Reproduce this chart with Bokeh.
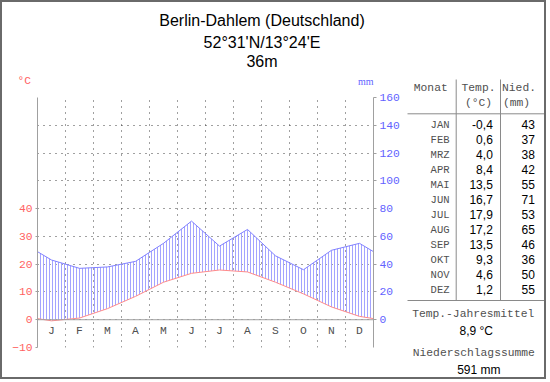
from bokeh.plotting import figure
from bokeh.layouts import row, column
from bokeh.models import Range1d, LinearAxis, FixedTicker, Span
from bokeh.embed import file_html
from bokeh.resources import INLINE
from bokeh.core.properties import value

# ---------------- data ----------------
station = "Berlin-Dahlem (Deutschland)"
coords = "52°31'N/13°24'E"
elevation = "36m"
month_letters = ["J", "F", "M", "A", "M", "J", "J", "A", "S", "O", "N", "D"]
month_names = ["JAN", "FEB", "MRZ", "APR", "MAI", "JUN", "JUL", "AUG", "SEP", "OKT", "NOV", "DEZ"]
temps = [-0.4, 0.6, 4.0, 8.4, 13.5, 16.7, 17.9, 17.2, 13.5, 9.3, 4.6, 1.2]
precip = [43, 37, 38, 42, 55, 71, 53, 65, 46, 36, 50, 55]
temp_ticks = [-10, 0, 10, 20, 30, 40]
precip_ticks = [0, 20, 40, 60, 80, 100, 120, 140, 160]
grid_ticks = [-10, 0, 10, 20, 30, 40, 50, 60, 70, 80]


def de(v):
    return f"{v:.1f}".replace(".", ",")


n = len(temps)
mid = [i + 0.5 for i in range(n)]
t_edge = (temps[0] + temps[-1]) / 2
p_edge = (precip[0] + precip[-1]) / 2
x_ext = [0] + mid + [n]
t_ext = [t_edge] + temps + [t_edge]
p_ext = [p_edge] + precip + [p_edge]
t_mm = [2 * t for t in t_ext]
mean_t = sum(temps) / n
sum_p = sum(precip)

# ---------------- style ----------------
RED = "#ff6262"
BLUE = "#6262ff"
MONO = "Liberation Mono"
SANS = "Liberation Sans"
GRAY_TXT = "#505050"
LINE_GRAY = "#8a8a8a"
MONO_PX = 11.3
SHIFT = 0.27  # em, compensates the renderer's baseline offset


def blank(w, h, xr, yr):
    f = figure(width=w, height=h, output_backend="svg", toolbar_location=None,
               x_range=Range1d(*xr), y_range=Range1d(*yr),
               x_axis_location=None, y_axis_location=None, min_border=0)
    f.grid.visible = False
    f.outline_line_color = None
    f.background_fill_color = "white"
    f.border_fill_color = "white"
    f.frame_align = False
    return f


def txt(f, x, y, t, color="black", font=SANS, px=12, align="left"):
    if isinstance(y, list):
        yy = [v - SHIFT * px for v in y]
    else:
        yy = y - SHIFT * px
    f.text(x=x, y=yy, text=t, text_color=color, text_font=value(font),
           text_font_size=f"{px}px", text_align=align, text_baseline="alphabetic")


# ---------------- title panel (page coords) ----------------
T = blank(403, 88, (2, 405), (90, 2))
txt(T, 261.5, 24.3, [station], px=16, align="center")
txt(T, 261.5, 46.7, [coords], px=16, align="center")
txt(T, 261.5, 65.7, [elevation], px=16, align="center")
txt(T, 17, 83.5, ["°C"], color=RED, font=MONO, px=MONO_PX)
txt(T, 373, 84, ["mm"], color=BLUE, font="Liberation Serif", px=10, align="right")

# ---------------- climate chart ----------------
C = figure(width=403, height=287, output_backend="svg", toolbar_location=None,
           x_range=Range1d(0, n), y_range=Range1d(-10, 80), x_axis_location=None,
           min_border_left=35, min_border_right=32, min_border_top=7, min_border_bottom=30)
C.frame_align = False
C.outline_line_color = None
C.background_fill_color = "white"
C.border_fill_color = "white"

ly = C.yaxis[0]
ly.ticker = FixedTicker(ticks=temp_ticks, minor_ticks=[])
C.extra_y_ranges = {"mm": Range1d(-20, 160)}
ry = LinearAxis(y_range_name="mm", ticker=FixedTicker(ticks=precip_ticks, minor_ticks=[]))
C.add_layout(ry, "right")

for ax, col, tout in [(ly, RED, 2), (ry, BLUE, 3)]:
    ax.axis_line_color = "#a0a0a0"
    ax.major_tick_line_color = "#a0a0a0"
    ax.major_tick_out = tout
    ax.major_tick_in = 0
    ax.minor_tick_out = 0
    ax.minor_tick_in = 0
    ax.major_label_text_color = col
    ax.major_label_text_font = MONO
    ax.major_label_text_font_size = f"{MONO_PX}px"
    ax.major_label_standoff = 3

C.ygrid.ticker = FixedTicker(ticks=grid_ticks, minor_ticks=[])
C.xgrid.ticker = FixedTicker(ticks=list(range(1, n)), minor_ticks=[])
for g in [C.xgrid[0], C.ygrid[0]]:
    g.grid_line_color = "#404040"
    g.grid_line_dash = "1 5"
    g.grid_line_width = 1

C.add_layout(Span(location=0, dimension="width", line_color="#a0a0a0", line_width=1))

C.varea(x=x_ext, y1=t_mm, y2=p_ext, y_range_name="mm",
        fill_alpha=0, hatch_pattern="vertical_line", hatch_color="#a4a4ff",
        hatch_scale=3, hatch_weight=1)
C.line(x_ext, p_ext, y_range_name="mm", line_color="#8080ff", line_width=1)
C.line(x_ext, t_ext, line_color="#ff8a8a", line_width=1)

# month letters: middle of the band between 0 and -10
C.text(x=mid, y=-3.9, text=month_letters, text_align="center", text_baseline="middle",
       text_font=value(MONO), text_font_size=f"{MONO_PX}px", text_color=GRAY_TXT)

# ---------------- table panel (page coords) ----------------
R = blank(139, 375, (405, 544), (377, 2))
R.segment(x0=[407, 407, 455.7, 500], y0=[113.3, 300, 79, 79],
          x1=[544, 544, 455.7, 500], y1=[113.3, 300, 300, 300],
          line_color=LINE_GRAY, line_width=1)

txt(R, 413.3, 90.7, ["Monat"], color=GRAY_TXT, font=MONO, px=MONO_PX)
txt(R, 478, 90.7, ["Temp."], color=GRAY_TXT, font=MONO, px=MONO_PX, align="center")
txt(R, 478, 105.5, ["(°C)"], color=GRAY_TXT, font=MONO, px=MONO_PX, align="center")
txt(R, 518.5, 90.7, ["Nied."], color=GRAY_TXT, font=MONO, px=MONO_PX, align="center")
txt(R, 516, 105.5, ["(mm)"], color=GRAY_TXT, font=MONO, px=MONO_PX, align="center")

row_y = [127 + 15 * i for i in range(n)]
txt(R, 449, row_y, month_names, color=GRAY_TXT, font=MONO, px=10.5, align="right")
txt(R, 492.3, row_y, [de(t) for t in temps], px=12, align="right")
txt(R, 534.3, row_y, [str(v) for v in precip], px=12, align="right")

txt(R, 472.7, 316.5, ["Temp.-Jahresmittel"], color=GRAY_TXT, font=MONO, px=MONO_PX, align="center")
txt(R, 475.8, 334, [de(mean_t) + " °C"], px=12, align="center")
txt(R, 473.3, 356, ["Niederschlagssumme"], color=GRAY_TXT, font=MONO, px=MONO_PX, align="center")
txt(R, 478.3, 372.5, [f"{sum_p} mm"], px=12, align="center")

layout = row(column(T, C), R, styles={"border": "2px solid #6a6a6a"})

open("out.html", "w").write(file_html(layout, INLINE))
